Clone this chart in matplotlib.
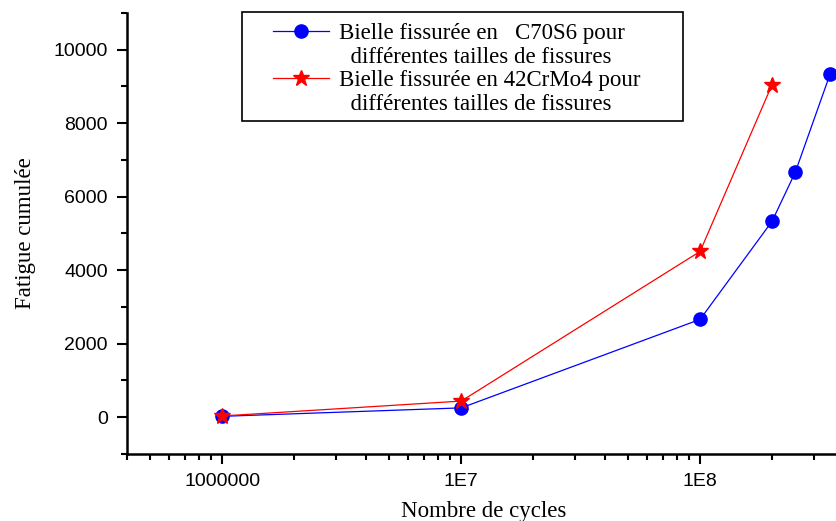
import numpy as np
import matplotlib.pyplot as plt
from matplotlib.lines import Line2D
from matplotlib.patches import Rectangle
from matplotlib.ticker import FixedLocator, LogLocator, MultipleLocator, NullFormatter

# Data
cycles_c70 = [1e6, 1e7, 1e8, 2e8, 2.5e8, 3.5e8]
fatigue_c70 = [20, 250, 2660, 5330, 6660, 9340]

cycles_42cr = [1e6, 1e7, 1e8, 2e8]
fatigue_42cr = [30, 435, 4510, 9050]

x_ticks = [1e6, 1e7, 1e8]
x_tick_labels = ["1000000", "1E7", "1E8"]

legend_lines = ["Bielle fissurée en   C70S6 pour",
                "  différentes tailles de fissures",
                "Bielle fissurée en 42CrMo4 pour",
                "  différentes tailles de fissures"]

W, H = 837, 521
fig = plt.figure(figsize=(W / 100, H / 100), dpi=100)
ax = fig.add_axes([0.152, 0.129, 0.848, 0.846])

l_c70, = ax.plot(cycles_c70, fatigue_c70, color="blue", lw=0.9, marker="o",
                 markersize=9.5)
l_42cr, = ax.plot(cycles_42cr, fatigue_42cr, color="red", lw=0.9, marker="*",
                  markersize=12)

ax.set_xscale("log")
ax.set_xlim(4e5, 3.74e8)
ax.set_ylim(-1000, 11000)

ax.xaxis.set_major_locator(FixedLocator(x_ticks))
ax.set_xticklabels(x_tick_labels)
ax.xaxis.set_minor_locator(LogLocator(base=10, subs=np.arange(2, 10)))
ax.xaxis.set_minor_formatter(NullFormatter())
ax.yaxis.set_major_locator(MultipleLocator(2000))
ax.yaxis.set_minor_locator(MultipleLocator(1000))

for side in ["top", "right"]:
    ax.spines[side].set_visible(False)
for side in ["left", "bottom"]:
    ax.spines[side].set_linewidth(1.8)

ax.tick_params(which="major", direction="out", length=7, width=1.5,
               labelsize=14, pad=7)
ax.tick_params(which="minor", direction="out", length=4, width=1.5)
for lab in ax.get_xticklabels() + ax.get_yticklabels():
    lab.set_family("Liberation Sans")

ax.set_xlabel("Nombre de cycles", family="Liberation Serif", fontsize=16.5)
ax.set_ylabel("Fatigue cumulée", family="Liberation Serif", fontsize=16.5)
ax.xaxis.set_label_coords(0.502, -0.108)
ax.yaxis.set_label_coords(-0.128, 0.5)

# legend: handle sits on the first line of each two-line entry
blank = Line2D([], [], color="none")
leg = ax.legend([l_c70, blank, l_42cr, blank], legend_lines,
                loc="upper left", bbox_to_anchor=(273 / W, 1 - 23 / H),
                bbox_transform=fig.transFigure,
                prop={"family": "Liberation Serif", "size": 16.5},
                frameon=False, handlelength=2.45, handletextpad=0.45,
                labelspacing=0.11, borderpad=0, borderaxespad=0)
fig.add_artist(Rectangle((242 / W, 1 - 121 / H), 441 / W, 109 / H,
                         transform=fig.transFigure, fill=False,
                         edgecolor="black", lw=1.2))

fig.savefig("out.png", dpi=100)
